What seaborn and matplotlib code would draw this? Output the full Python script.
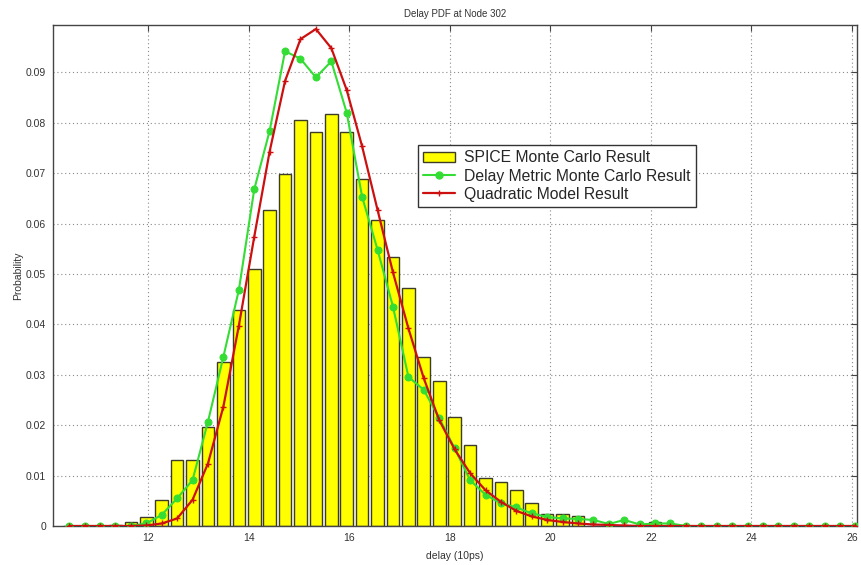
import numpy as np
import pandas as pd
import matplotlib
matplotlib.use("Agg")
import matplotlib.pyplot as plt
from matplotlib.patches import Patch
from matplotlib.lines import Line2D
import seaborn as sns

# ---- data ----
delay_centers = [10.423, 10.730, 11.037, 11.343, 11.650, 11.957, 12.264, 12.571, 12.877, 13.184,
                 13.491, 13.798, 14.105, 14.411, 14.718, 15.025, 15.332, 15.639, 15.945, 16.252,
                 16.559, 16.866, 17.173, 17.479, 17.786, 18.093, 18.400, 18.707, 19.013, 19.320,
                 19.627, 19.934, 20.241, 20.547, 20.854, 21.161, 21.468, 21.775, 22.081, 22.388,
                 22.695, 23.002, 23.309, 23.615, 23.922, 24.229, 24.536, 24.843, 25.149, 25.456,
                 25.763, 26.070]

spice_mc = [0, 0, 0, 0.0002, 0.0008, 0.0017, 0.0052, 0.0130, 0.0130, 0.0196,
            0.0326, 0.0428, 0.0509, 0.0627, 0.0699, 0.0806, 0.0782, 0.0817, 0.0781, 0.0688,
            0.0607, 0.0533, 0.0472, 0.0336, 0.0288, 0.0216, 0.0161, 0.0095, 0.0088, 0.0071,
            0.0045, 0.0024, 0.0024, 0.0020, 0, 0, 0, 0, 0.0007, 0,
            0, 0, 0, 0, 0, 0, 0, 0, 0, 0,
            0, 0]

delay_metric_mc = [0, 0, 0, 0, 0, 0.0005, 0.0022, 0.0055, 0.0091, 0.0207,
                   0.0336, 0.0468, 0.0668, 0.0784, 0.0942, 0.0927, 0.0890, 0.0922, 0.0820, 0.0653,
                   0.0548, 0.0435, 0.0296, 0.0270, 0.0214, 0.0154, 0.0091, 0.0062, 0.0045, 0.0037,
                   0.0025, 0.0018, 0.0015, 0.0014, 0.0012, 0.0004, 0.0012, 0.0003, 0.0005, 0.0005,
                   0, 0, 0, 0, 0, 0, 0, 0, 0, 0,
                   0, 0]

quadratic_model = [0, 0, 0, 0, 0, 0.0001, 0.0005, 0.0015, 0.0052, 0.0124,
                   0.0237, 0.0397, 0.0574, 0.0743, 0.0883, 0.0966, 0.0986, 0.0948, 0.0865, 0.0753,
                   0.0627, 0.0503, 0.0392, 0.0293, 0.0210, 0.0152, 0.0105, 0.0071, 0.0048, 0.0030,
                   0.0019, 0.0012, 0.0008, 0.0005, 0.0003, 0.0002, 0.0001, 0, 0, 0,
                   0, 0, 0, 0, 0, 0, 0, 0, 0, 0,
                   0, 0]

x_ticks = [12, 14, 16, 18, 20, 22, 24, 26]
y_ticks = [0, 0.01, 0.02, 0.03, 0.04, 0.05, 0.06, 0.07, 0.08, 0.09]
y_tick_labels = ["0", "0.01", "0.02", "0.03", "0.04", "0.05", "0.06", "0.07", "0.08", "0.09"]

title = "Delay PDF at Node 302"
x_label = "delay (10ps)"
y_label = "Probability"
legend_labels = ["SPICE Monte Carlo Result", "Delay Metric Monte Carlo Result", "Quadratic Model Result"]

# ---- style ----
sns.set_style("white")
plt.rcParams['font.family'] = ['Liberation Sans', 'DejaVu Sans']

df = pd.DataFrame({"delay": delay_centers, "spice": spice_mc,
                   "metric": delay_metric_mc, "quad": quadratic_model})

fig = plt.figure(figsize=(8.61, 5.65), dpi=100)
ax = fig.add_axes([53 / 861, 1 - 526 / 565, (857 - 53) / 861, (526 - 25) / 565])

YELLOW = "#ffff00"
EDGE = "#3c3c28"
GREEN = "#33dd33"
RED = "#cc1010"

sns.barplot(data=df, x="delay", y="spice", native_scale=True, width=0.82,
            color=YELLOW, edgecolor=EDGE, linewidth=1.0, saturation=1, ax=ax, zorder=2)
sns.lineplot(data=df, x="delay", y="metric", color=GREEN, linewidth=1.5,
             marker="o", markersize=5, markerfacecolor=GREEN, markeredgecolor=GREEN,
             ax=ax, zorder=3)
sns.lineplot(data=df, x="delay", y="quad", color=RED, linewidth=1.6,
             marker="+", markersize=4, markeredgewidth=1.0, markeredgecolor=RED,
             ax=ax, zorder=4)

ax.set_xlim(10.1, 26.1)
ax.set_ylim(0, 0.0994)
ax.set_xticks(x_ticks)
ax.set_xticklabels([str(t) for t in x_ticks])
ax.set_yticks(y_ticks)
ax.set_yticklabels(y_tick_labels)

ax.grid(True, linestyle=(0, (1, 2.5)), color="#8a8a8a", linewidth=0.8, zorder=0)
ax.set_axisbelow(True)

for s in ax.spines.values():
    s.set_visible(True)
    s.set_color("#444444")
    s.set_linewidth(1.0)

ax.tick_params(axis="both", direction="in", length=4, width=0.8, color="#444444",
               labelsize=7.5, labelcolor="#333333", top=True, right=True, pad=5)

ax.set_title(title, fontsize=7, color="#333333", pad=6)
ax.set_xlabel(x_label, fontsize=7.5, color="#333333", labelpad=6)
ax.set_ylabel(y_label, fontsize=7.5, color="#333333", labelpad=2)

handles = [
    Patch(facecolor=YELLOW, edgecolor=EDGE, linewidth=1.0),
    Line2D([0], [0], color=GREEN, linewidth=1.5, marker="o", markersize=5,
           markerfacecolor=GREEN, markeredgecolor=GREEN),
    Line2D([0], [0], color=RED, linewidth=1.6, marker="+", markersize=4, markeredgecolor=RED),
]
leg = ax.legend(handles, legend_labels, loc="upper left",
                bbox_to_anchor=((417.7 - 53) / 804, (526 - 145) / 501),
                borderaxespad=0, fontsize=11.3, frameon=True, fancybox=False,
                edgecolor="#333333", framealpha=1, labelspacing=0.2,
                handlelength=2.0, handletextpad=0.6, borderpad=0.35)
leg.get_frame().set_linewidth(1.0)
leg.set_zorder(10)

fig.savefig("out.png", dpi=100)
